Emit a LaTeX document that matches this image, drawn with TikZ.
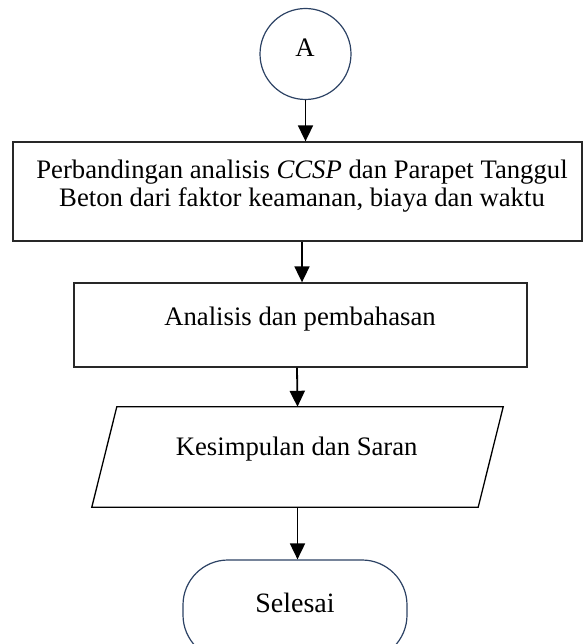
\documentclass[tikz,border=0pt]{standalone}
\usepackage{fontspec}
\setmainfont{Liberation Serif}
\usetikzlibrary{arrows.meta}
\definecolor{edgeblue}{RGB}{44,66,100}
\definecolor{boxline}{RGB}{40,40,40}
\begin{document}
\begin{tikzpicture}[x=1pt,y=-1pt,
  txt/.style={font=\fontsize{26.7}{28}\selectfont, inner sep=0pt, align=center},
  connector/.style={draw, line width=1.8pt, -{Triangle[length=16pt,width=15pt]}},
  procbox/.style={draw=boxline, line width=1.3pt, rectangle, inner sep=0pt},
  roundbox/.style={draw=edgeblue, line width=1.2pt, inner sep=0pt}
]
\useasboundingbox (0,0) rectangle (584,644);

% connector circle
\node[roundbox, circle, minimum size=91pt] (A) at (305.5,54) {};
\node[txt, anchor=base] (tA) at (305,57) {A};

% comparison step
\node[procbox, minimum width=569pt, minimum height=99pt] (b1) at (297.5,191.5) {};
\node[txt, anchor=center] (t1) at (302,186) {Perbandingan analisis \textit{CCSP} dan Parapet Tanggul\\Beton dari faktor keamanan, biaya dan waktu};

% analysis step
\node[procbox, minimum width=453pt, minimum height=84pt] (b2) at (300.5,325) {};
\node[txt, anchor=base] (t2) at (300,325) {Analisis dan pembahasan};

% conclusion (data shape)
\node[rectangle, inner sep=0pt, minimum width=411pt, minimum height=100pt] (p) at (297.5,457) {};
\draw[black, line width=1.3pt] (p.south west) -- ([xshift=-25pt]p.south east) -- (p.north east) -- ([xshift=25pt]p.north west) -- cycle;
\node[txt, anchor=base] (t3) at (296.7,455.7) {Kesimpulan dan Saran};

% terminator (runs past the lower page edge)
\node[roundbox, rectangle, rounded corners=45pt, minimum width=224pt, minimum height=100pt] (end) at (295,610) {};
\node[txt, anchor=base, font=\fontsize{28}{30}\selectfont] (t4) at (295,612) {Selesai};

% flow
\draw[connector] (A.south) -- (A.south |- b1.north);
\draw[connector] ([xshift=4.5pt]b1.south) -- ([xshift=1.5pt]b2.north);
\draw[connector] ([xshift=-3.5pt]b2.south) -- (p.north);
\draw[connector] (p.south) -- (p.south |- end.north);
\end{tikzpicture}
\end{document}
